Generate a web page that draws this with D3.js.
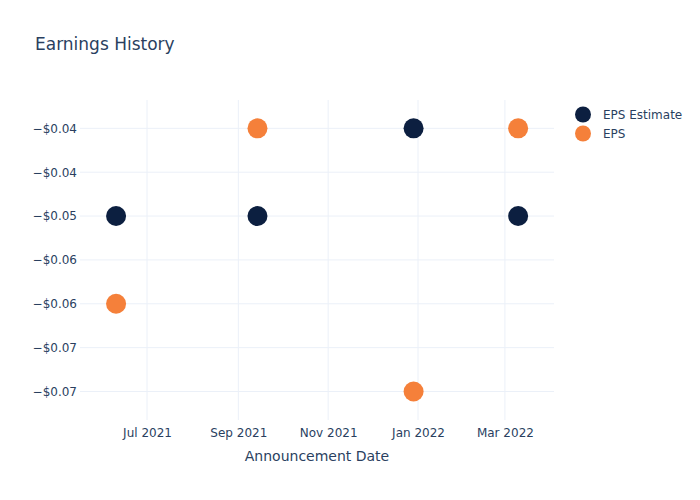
<!DOCTYPE html>
<html>
<head>
<meta charset="utf-8">
<script src="https://cdn.jsdelivr.net/npm/d3@7"></script>
<style>
  body { margin: 0; background: #fff; }
  svg { font-family: "DejaVu Sans", sans-serif; }
</style>
</head>
<body>
<svg id="chart" width="700" height="500"></svg>
<script>
const dates = ["2021-06-10", "2021-09-14", "2021-12-29", "2022-03-10"];
const epsEstimate = [-0.05, -0.05, -0.04, -0.05];
const eps = [-0.06, -0.04, -0.07, -0.04];
const seriesNames = ["EPS Estimate", "EPS"];
const seriesColors = ["#0c1f40", "#f5803a"];
const yTicks = [-0.04, -0.045, -0.05, -0.055, -0.06, -0.065, -0.07];
const xTicks = ["2021-07-01", "2021-09-01", "2021-11-01", "2022-01-01", "2022-03-01"];
const xDomain = ["2021-05-16T12:00", "2022-04-03T08:00"];
const yDomain = [-0.07325, -0.03677];

const parse = d3.isoParse;
const svg = d3.select("#chart");
const textColor = "#2a3f5f";
const gridColor = "#ebf0f8";
const m = {left: 80, right: 554, top: 100, bottom: 420};

const x = d3.scaleTime().domain(xDomain.map(parse)).range([m.left, m.right]);
const y = d3.scaleLinear().domain(yDomain).range([m.bottom, m.top]);

// grid
svg.append("g").selectAll("line").data(xTicks.map(parse)).join("line")
  .attr("x1", d => x(d)).attr("x2", d => x(d))
  .attr("y1", m.top).attr("y2", m.bottom)
  .attr("stroke", gridColor).attr("stroke-width", 1);
svg.append("g").selectAll("line").data(yTicks).join("line")
  .attr("x1", m.left).attr("x2", m.right)
  .attr("y1", d => y(d)).attr("y2", d => y(d))
  .attr("stroke", gridColor).attr("stroke-width", 1);

// axes
const fmt = d3.format("$.2f");
const yAxis = d3.axisLeft(y).tickValues(yTicks).tickSize(0).tickPadding(3)
  .tickFormat(d => fmt(d));
const gy = svg.append("g").attr("transform", `translate(${m.left},0)`).call(yAxis);
gy.select(".domain").remove();
gy.selectAll("text").attr("fill", textColor).style("font-size", "12px")
  .style("font-family", "'DejaVu Sans', sans-serif");

const xAxis = d3.axisBottom(x).tickValues(xTicks.map(parse)).tickSize(0).tickPadding(8)
  .tickFormat(d3.timeFormat("%b %Y"));
const gx = svg.append("g").attr("transform", `translate(0,${m.bottom})`).call(xAxis);
gx.select(".domain").remove();
gx.selectAll("text").attr("fill", textColor).style("font-size", "12px")
  .style("font-family", "'DejaVu Sans', sans-serif");

// title
svg.append("text").attr("x", 35).attr("y", 50).text("Earnings History")
  .attr("fill", textColor).style("font-size", "17px");
svg.append("text").attr("x", (m.left + m.right) / 2).attr("y", 461)
  .attr("text-anchor", "middle").text("Announcement Date")
  .attr("fill", textColor).style("font-size", "14px");

// points
const series = [epsEstimate, eps];
series.forEach((vals, si) => {
  svg.append("g").selectAll("circle").data(vals).join("circle")
    .attr("cx", (d, i) => x(parse(dates[i])))
    .attr("cy", d => y(d))
    .attr("r", 10)
    .attr("fill", seriesColors[si]);
});

// legend
const lg = svg.append("g");
seriesNames.forEach((n, i) => {
  lg.append("circle").attr("cx", 583).attr("cy", 114.5 + i * 19).attr("r", 8)
    .attr("fill", seriesColors[i]);
  lg.append("text").attr("x", 603).attr("y", 119 + i * 19).text(n)
    .attr("fill", textColor).style("font-size", "12px");
});
</script>
</body>
</html>
